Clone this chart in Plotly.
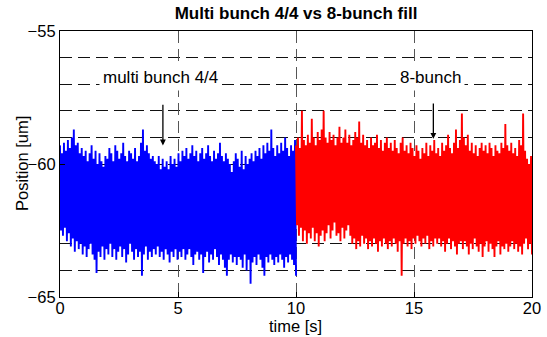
import numpy as np
import plotly.graph_objects as go

# ---- data ----
blue_high = [
    -59.3, -59.6, -59.2, -59.5, -59.1, -59.4, -59.0, -58.7, -59.3, -59.2, -59.6, -59.4,
    -59.7, -59.5, -59.9, -59.6, -59.3, -59.8, -59.5, -60.0, -59.6, -59.9, -60.1, -59.7,
    -59.8, -59.4, -59.6, -59.9, -59.3, -59.5, -59.8, -59.6, -59.2, -59.7, -59.9, -59.5,
    -59.6, -59.8, -59.4, -59.9, -59.7, -59.2, -58.7, -59.5, -59.3, -59.6, -59.8, -59.7,
    -59.9, -60.0, -59.7, -60.2, -59.8, -60.1, -59.9, -60.2, -59.7, -60.0, -59.8, -60.1,
    -59.6, -59.9, -59.5, -59.7, -59.4, -59.8, -59.6, -59.3, -59.7, -59.5, -59.9, -59.6,
    -59.4, -59.8, -59.6, -59.3, -59.7, -59.9, -59.5, -59.8, -59.6, -59.2, -59.7, -59.9,
    -59.6, -59.8, -60.0, -60.3, -59.9, -59.6, -59.8, -60.1, -59.5, -60.2, -59.7, -60.0,
    -59.8, -59.6, -59.9, -59.5, -59.7, -59.4, -59.8, -59.3, -59.6, -59.2, -59.5, -58.7,
    -59.4, -59.7, -59.3, -59.6, -59.2, -59.5, -59.0, -59.4, -59.7, -59.3, -59.5, -59.1,
]
blue_low = [
    -62.5, -62.7, -62.4, -62.9, -62.6, -63.1, -62.8, -63.3, -62.9, -63.2, -63.0, -63.4,
    -63.1, -63.5, -63.2, -63.0, -63.4, -63.6, -64.1, -63.3, -63.5, -63.1, -63.6, -63.2,
    -63.4, -63.0, -63.5, -63.2, -63.6, -63.3, -63.1, -63.5, -63.2, -63.7, -63.4, -63.0,
    -63.3, -63.6, -63.2, -63.5, -63.3, -64.2, -63.4, -63.1, -63.6, -63.3, -63.5, -63.2,
    -63.4, -63.1, -63.5, -63.3, -63.6, -63.2, -63.4, -63.7, -63.3, -63.5, -63.2, -63.6,
    -63.3, -63.5, -63.2, -63.6, -63.4, -63.2, -63.5, -63.8, -63.4, -63.3, -63.6, -63.4,
    -64.1, -63.5, -63.3, -63.7, -63.4, -63.6, -63.2, -63.5, -63.8, -63.4, -63.6, -63.9,
    -64.2, -63.6, -63.4, -63.7, -63.5, -63.8, -63.5, -63.6, -63.9, -63.4, -64.0, -63.6,
    -64.5, -63.7, -63.5, -63.8, -63.4, -63.6, -63.9, -64.2, -63.5, -63.7, -63.4, -63.6,
    -63.8, -63.5, -63.7, -63.4, -63.6, -63.9, -63.5, -63.7, -63.4, -63.6, -63.8, -64.2,
]
red_high = [
    -59.3, -59.0, -59.4, -58.0, -59.1, -59.3, -58.9, -59.2, -58.3, -59.0, -59.3, -58.8,
    -59.1, -58.7, -58.0, -59.0, -59.2, -58.8, -59.1, -58.9, -59.3, -59.0, -58.6, -59.2,
    -59.0, -58.7, -59.2, -58.9, -59.3, -59.1, -58.8, -59.0, -58.4, -59.2, -58.9, -59.3,
    -59.1, -59.4, -59.0, -59.3, -59.2, -58.9, -59.4, -59.1, -59.5, -59.2, -59.0, -59.4,
    -59.2, -59.5, -59.1, -59.4, -59.6, -59.2, -59.0, -59.5, -59.3, -59.6, -59.2, -59.4,
    -59.7, -59.3, -59.5, -59.8, -59.4, -59.6, -59.2, -59.7, -59.3, -59.5, -59.1, -59.6,
    -59.4, -59.7, -59.2, -59.5, -59.3, -58.9, -59.4, -59.6, -59.2, -58.7, -59.4, -59.1,
    -58.1, -59.0, -59.3, -58.9, -59.5, -59.2, -59.6, -59.3, -59.7, -59.4, -59.2, -59.5,
    -59.3, -59.6, -59.2, -59.4, -59.7, -59.3, -59.5, -59.6, -59.2, -59.4, -58.5, -59.3,
    -59.5, -59.2, -59.6, -59.4, -59.7, -59.1, -59.3, -58.1, -59.5, -59.8, -60.0, -59.7,
]
red_low = [
    -62.3, -62.7, -62.4, -62.9, -62.5, -63.0, -62.6, -62.8, -62.4, -62.9, -62.6, -63.1,
    -62.7, -62.5, -62.9, -62.6, -62.3, -62.8, -62.5, -62.2, -62.7, -62.6, -62.9, -62.4,
    -62.8, -62.5, -62.3, -62.7, -63.0, -62.8, -63.2, -62.9, -63.1, -62.7, -63.0, -62.8,
    -63.2, -62.9, -63.1, -62.8, -63.0, -63.3, -62.9, -63.1, -62.8, -63.0, -63.2, -62.9,
    -63.1, -62.8, -63.0, -63.3, -62.9, -64.2, -63.0, -62.8, -63.1, -62.9, -63.2, -62.8,
    -63.0, -62.7, -62.9, -63.1, -62.8, -63.0, -62.7, -63.2, -62.9, -63.1, -62.8, -63.0,
    -62.8, -63.1, -62.9, -63.3, -63.0, -62.8, -63.2, -62.9, -63.1, -63.4, -63.0, -62.9,
    -63.2, -62.9, -63.1, -63.4, -63.0, -63.2, -62.8, -63.1, -63.3, -63.0, -63.5, -63.1,
    -62.9, -63.3, -63.0, -63.2, -63.5, -63.1, -62.9, -63.4, -63.1, -63.2, -63.0, -63.3,
    -63.1, -62.9, -63.2, -63.0, -63.3, -63.1, -63.4, -63.0, -62.8, -63.2, -63.0, -63.4,
]
blue_span = [0, 10]
red_span = [10, 20]
x_ticks = [0, 5, 10, 15, 20]
y_ticks = [-65, -60, -55]
title = "Multi bunch 4/4 vs 8-bunch fill"
x_title = "time [s]"
y_title = "Position [um]"
label_blue = "multi bunch 4/4"
label_red = "8-bunch"


def zigzag(high, low, span):
    vals = []
    for h, l in zip(high, low):
        vals.extend([h, l])
    t = np.linspace(span[0], span[1], len(vals))
    return t, vals


FONT = "Liberation Sans, Arial, Helvetica, sans-serif"
L, R, T, B = 60, 15, 31, 40
W, H = 547, 337
PW, PH = W - L - R, H - T - B

bt, bv = zigzag(blue_high, blue_low, blue_span)
rt, rv = zigzag(red_high, red_low, red_span)

fig = go.Figure()
fig.add_trace(go.Scatter(x=bt, y=bv, mode="lines",
                         line=dict(color="#0000ff", width=1.9), hoverinfo="skip"))
fig.add_trace(go.Scatter(x=rt, y=rv, mode="lines",
                         line=dict(color="#ff0000", width=1.9), hoverinfo="skip"))

# text labels with white background
fig.add_annotation(x=4.24, y=-56.73, xref="x", yref="y", text=label_blue,
                   showarrow=False, bgcolor="white", borderpad=3,
                   font=dict(family=FONT, size=17, color="black"))
fig.add_annotation(x=15.72, y=-56.74, xref="x", yref="y", text=label_red,
                   showarrow=False, bgcolor="white", borderpad=3,
                   font=dict(family=FONT, size=17, color="black"))
# arrows
fig.add_annotation(x=4.36, y=-59.3, ax=4.36, ay=-57.72, xref="x", yref="y",
                   axref="x", ayref="y", text="", showarrow=True,
                   arrowhead=2, arrowsize=0.9, arrowwidth=1.3, arrowcolor="black")
fig.add_annotation(x=15.82, y=-59.05, ax=15.82, ay=-57.67, xref="x", yref="y",
                   axref="x", ayref="y", text="", showarrow=True,
                   arrowhead=2, arrowsize=0.9, arrowwidth=1.3, arrowcolor="black")

# axis titles
fig.add_annotation(x=(22 - L) / PW, y=0.5, xref="paper", yref="paper",
                   text=y_title, textangle=-90, showarrow=False,
                   xanchor="center", yanchor="middle",
                   font=dict(family=FONT, size=16.5, color="black"))
fig.add_annotation(x=(295 - L) / PW, y=-(326 - (T + PH)) / PH, xref="paper",
                   yref="paper", text=x_title, showarrow=False,
                   xanchor="center", yanchor="middle",
                   font=dict(family=FONT, size=16.5, color="black"))

fig.update_layout(
    width=W, height=H,
    margin=dict(l=L, r=R, t=T, b=B, autoexpand=False),
    paper_bgcolor="white", plot_bgcolor="white",
    showlegend=False,
    font=dict(family=FONT, size=16, color="black"),
    title=dict(text="<b>" + title + "</b>", x=296 / W, xanchor="center",
               y=1 - 13 / H, yanchor="middle",
               font=dict(family=FONT, size=17, color="black")),
)
fig.update_xaxes(
    range=[0, 20], tickvals=x_ticks, ticks="inside", ticklen=5,
    tickcolor="black", showline=True, linecolor="black", linewidth=1.2,
    mirror=True, showgrid=True, gridcolor="#555555", griddash="12px,6px",
    gridwidth=1, zeroline=False, automargin=False,
    tickfont=dict(size=16.5), ticklabelstandoff=-4,
)
fig.update_yaxes(
    range=[-65, -55], tickvals=y_ticks, ticks="inside", ticklen=5,
    tickcolor="black", showline=True, linecolor="black", linewidth=1.2,
    mirror=True, showgrid=True, gridcolor="#111111", griddash="12px,6px",
    gridwidth=1, zeroline=False, automargin=False,
    minor=dict(dtick=1, showgrid=True, gridcolor="#111111",
               griddash="12px,6px", gridwidth=1, ticks=""),
    tickfont=dict(size=16.5), ticklabelstandoff=0,
)

fig.write_html("out.html", config={"displayModeBar": False})
